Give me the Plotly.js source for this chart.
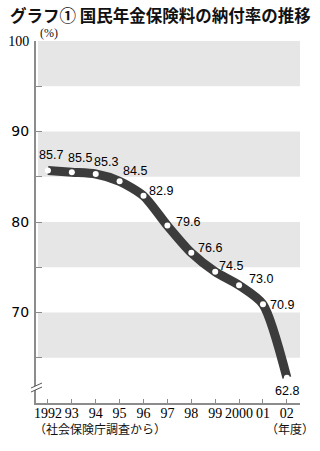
<!DOCTYPE html>
<html>
<head>
<meta charset="utf-8">
<script src="https://cdn.plot.ly/plotly-3.0.1.min.js"></script>
<style>
html,body{margin:0;padding:0;background:#fff;}
#chart{width:320px;height:451px;}
</style>
</head>
<body>
<div id="chart"></div>
<script>
// ---- data ----
const years = [1992, 1993, 1994, 1995, 1996, 1997, 1998, 1999, 2000, 2001, 2002];
const rates = [85.7, 85.5, 85.3, 84.5, 82.9, 79.6, 76.6, 74.5, 73.0, 70.9, 62.8];
const xTickLabels = ['1992', '93', '94', '95', '96', '97', '98', '99', '2000', '01', '02'];
const yTickVals = [70, 80, 90, 100];
const yTickLabels = ['70', '80', '90', '100'];
const titleText = 'グラフ① 国民年金保険料の納付率の推移';
const unitText = '(%)';
const sourceText = '（社会保険庁調査から）';
const yearUnitText = '（年度）';

// ---- label offsets (pixels, dx right, dy down) ----
const labelOffsets = [[3,-15],[8,-14],[10,-12],[15,-10],[17,-5],[21,-4],[19,-5],[16,-6],[22,-6],[19,1],[0,13]];

const lineColor = '#3c3c3c';
const bandColor = '#e6e6e6';
const axisColor = '#8c8c8c';

const trace = {
  x: years, y: rates, type: 'scatter', mode: 'lines+markers',
  line: {color: lineColor, width: 9, shape: 'spline', smoothing: 0.7},
  marker: {color: '#ffffff', size: 6, line: {width: 0}},
  cliponaxis: false, hoverinfo: 'skip'
};

// plot area pixel geometry helpers (for decoration placement)
const L = 36, T = 41, W = 264, H = 362;
const px = v => (v - L) / W;
const py = v => (T + H - v) / H;

const shapes = [];
[[95,100],[85,90],[75,80],[65,70]].forEach(b => {
  shapes.push({type:'rect', xref:'paper', yref:'y', x0: px(38), x1: 1, y0: b[0], y1: b[1],
    fillcolor: bandColor, line:{width:0}, layer:'below'});
});
// axis break marks
shapes.push({type:'path', xref:'paper', yref:'paper',
  path: `M ${px(33)} ${py(391)} L ${px(40)} ${py(388)} L ${px(40)} ${py(384)} L ${px(33)} ${py(387)} Z`,
  fillcolor:'#ffffff', line:{width:0}, layer:'above'});
shapes.push({type:'line', xref:'paper', yref:'paper', x0: px(31), y0: py(388), x1: px(42), y1: py(383),
  line:{color:'#555', width:1}, layer:'above'});
shapes.push({type:'line', xref:'paper', yref:'paper', x0: px(31), y0: py(392), x1: px(42), y1: py(387),
  line:{color:'#555', width:1}, layer:'above'});

const annotations = rates.map((r, i) => ({
  x: years[i], y: r, xref:'x', yref:'y', text: r.toFixed(1), showarrow:false,
  xanchor:'center', yanchor:'middle',
  xshift: labelOffsets[i][0], yshift: -labelOffsets[i][1],
  font:{family:'Liberation Sans, Arial, sans-serif', size:12.5, color:'#000'}
}));
annotations.push({xref:'paper', yref:'paper', x: px(49), y: py(33), xanchor:'center', yanchor:'middle',
  text: unitText, showarrow:false,
  font:{family:'Liberation Serif, serif', size:12, color:'#111'}});
annotations.push({xref:'paper', yref:'paper', x: px(32), y: py(428), xanchor:'left', yanchor:'middle',
  text: sourceText, showarrow:false,
  font:{family:'Noto Sans CJK JP, sans-serif', size:12, color:'#111'}});
annotations.push({xref:'paper', yref:'paper', x: px(264), y: py(428), xanchor:'left', yanchor:'middle',
  text: yearUnitText, showarrow:false,
  font:{family:'Noto Sans CJK JP, sans-serif', size:12, color:'#111'}});

const yText = yTickLabels.map(t => t === '100' ? '<span style="font-family:Liberation Serif">' + t + '</span>' : t);

const layout = {
  width: 320, height: 451,
  margin: {l: L, r: 320 - L - W, t: T, b: 451 - T - H, pad: 0},
  paper_bgcolor: '#ffffff', plot_bgcolor: '#ffffff',
  showlegend: false,
  title: {text: titleText, xref:'container', x: 10/320, xanchor:'left', yref:'container', y: 1 - 16/451, yanchor:'middle',
    font:{family:'Noto Sans CJK JP, sans-serif', size:16.5, color:'#111', weight:'bold'}},
  xaxis: {
    range: [1991.5, 2002.55], tickvals: years, ticktext: xTickLabels,
    ticks:'inside', ticklen:4, tickcolor: axisColor, tickwidth:1,
    showline:true, linecolor: axisColor, linewidth:2, showgrid:false, zeroline:false,
    tickfont:{family:'Liberation Serif, serif', size:14, color:'#000'}, ticklabelstandoff: -4, fixedrange:true
  },
  yaxis: {
    range: [60, 100], tickvals: yTickVals, ticktext: yText,
    ticks:'inside', ticklen:6, tickcolor: axisColor, tickwidth:1,
    minor:{ticks:'inside', ticklen:6, dtick:5, tick0:0, tickcolor: axisColor, tickwidth:1, showgrid:false},
    showline:true, linecolor: axisColor, linewidth:2, showgrid:false, zeroline:false,
    tickfont:{family:'DejaVu Sans, sans-serif', size:14, color:'#000'}, ticklabelstandoff: 2, fixedrange:true
  },
  shapes: shapes,
  annotations: annotations
};

Plotly.newPlot('chart', [trace], layout, {displayModeBar:false, staticPlot:true});
</script>
</body>
</html>
